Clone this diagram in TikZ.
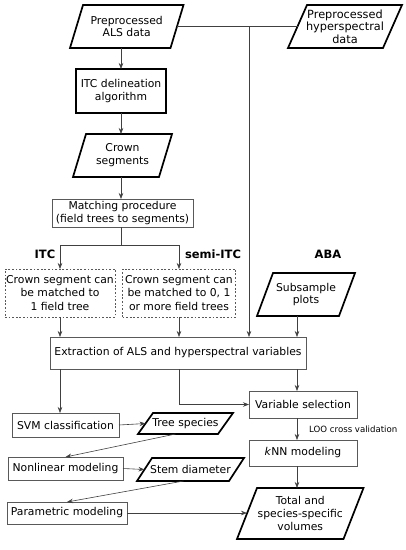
\documentclass[tikz,border=0pt]{standalone}
\usepackage{fontspec}
\setmainfont{DejaVu Sans}
\usetikzlibrary{arrows.meta}
\newcommand\paraframe[2]{\draw[pframe] ([xshift=#2pt]#1.north west) -- ([xshift=#2pt]#1.north east) -- ([xshift=-#2pt]#1.south east) -- ([xshift=-#2pt]#1.south west) -- cycle;}
\begin{document}
\begin{tikzpicture}[x=1pt,y=-1pt,
 base/.style={inner sep=0pt, outer sep=0pt, align=center, font=\fontsize{10.8}{12.8}\selectfont, text=black},
 thinbox/.style={base, draw=black!65, line width=0.7pt},
 thickbox/.style={base, draw=black, line width=1.7pt},
 dbox/.style={base, font=\fontsize{10.8}{13.3}\selectfont, draw=black!65, line width=0.7pt, dash pattern=on 1.8pt off 1.8pt},
 pbox/.style={base},
 pframe/.style={draw=black, line width=1.7pt, line join=miter},
 conn/.style={draw=black!75, line width=0.6pt},
 arr/.style={conn, -{Stealth[length=6pt,width=4.5pt]}},
 lab/.style={font=\bfseries\fontsize{11.5}{13}\selectfont, inner sep=0pt, text=black},
]
\useasboundingbox (0,0) rectangle (406,550);
\coordinate (colh) at (249,0);
\coordinate (colm) at (121,0);
\coordinate (colr) at (297,0);

% top
\node[pbox, minimum width=100.5pt, minimum height=43pt] (als) at (126.75,26.5) {Preprocessed\\ALS data};
\paraframe{als}{6.5}
\node[pbox, font=\fontsize{11.3}{12.6}\selectfont, minimum width=95pt, minimum height=43pt] (hyp) at (345,26.5) {Preprocessed\\hyperspectral\\data};
\paraframe{hyp}{9.5}
\node[thickbox, minimum width=90pt, minimum height=44pt] (itc) at (121,91) {ITC delineation\\algorithm};
\node[pbox, minimum width=86pt, minimum height=43pt] (crown) at (122.5,155.5) {Crown\\segments};
\paraframe{crown}{6.5}
\node[thinbox, minimum width=141pt, minimum height=28pt] (match) at (122.5,213) {Matching procedure\\(field trees to segments)};

% labels
\node[lab] (litc) at (45,254) {ITC};
\node[lab] (lsemi) at (213,254) {semi-ITC};
\node[lab] (laba) at (328,254) {ABA};

% middle
\node[dbox, minimum width=110pt, minimum height=48pt] (dl) at (60,293) {Crown segment can\\be matched to\\1 field tree};
\node[dbox, minimum width=113pt, minimum height=48pt] (dr) at (179,293) {Crown segment can\\be matched to 0, 1\\or more field trees};
\node[pbox, minimum width=82pt, minimum height=43pt] (sub) at (306,294.5) {Subsample\\plots};
\paraframe{sub}{8}
\node[thinbox, minimum width=256pt, minimum height=32pt] (ext) at (178,353) {Extraction of ALS and hyperspectral variables};

% lower
\node[thinbox, minimum width=108pt, minimum height=27pt] (vsel) at (303,404.5) {Variable selection};
\node[anchor=west, inner sep=0pt, font=\fontsize{8.6}{10}\selectfont, text=black] (loo) at (309,429) {LOO cross validation};
\node[thinbox, minimum width=108pt, minimum height=26pt] (knn) at (303,453) {\textit{k}NN modeling};
\node[pbox, minimum width=106.5pt, minimum height=51pt] (tot) at (300.25,513.5) {Total and\\species-specific\\volumes};
\paraframe{tot}{10}
\node[thinbox, minimum width=107pt, minimum height=24pt] (svm) at (65.5,425) {SVM classification};
\node[pbox, minimum width=80pt, minimum height=21pt] (tree) at (185.5,423.5) {Tree species};
\paraframe{tree}{7.5}
\node[thinbox, minimum width=115pt, minimum height=23pt] (nonlin) at (65.5,468.5) {Nonlinear modeling};
\node[pbox, minimum width=92pt, minimum height=23pt] (stem) at (190.5,469.5) {Stem diameter};
\paraframe{stem}{7.5}
\node[thinbox, minimum width=120pt, minimum height=22pt] (param) at (67,513) {Parametric modeling};

% connectors
\draw[conn] (als.east) -- (hyp.west);
\draw[arr] (als.east -| colh) -- (ext.north -| colh);
\draw[arr] (als.south -| colm) -- (itc.north -| colm);
\draw[arr] (itc.south -| colm) -- (crown.north -| colm);
\draw[arr] (crown.south -| colm) -- (match.north -| colm);
\coordinate (br) at (121,245);
\draw[conn] (match.south -| colm) -- (br);
\draw[arr] (br) -| (dl.north);
\draw[arr] (br) -| (dr.north);
\draw[arr] (dl.south) -- (dl.south |- ext.north);
\draw[arr] (dr.south) -- (dr.south |- ext.north);
\draw[arr] (sub.south -| colr) -- (ext.north -| colr);
\draw[arr] (ext.south -| colr) -- (vsel.north -| colr);
\draw[arr] (ext.south -| dr.south) |- (vsel.west);
\draw[arr] (ext.south -| dl.south) -- (svm.north -| dl.south);
\draw[arr] (svm.east) -- (tree.west);
\draw[arr] ([xshift=-10pt]tree.south) -- (nonlin.north);
\draw[arr] (nonlin.east) -- (stem.west);
\draw[arr] ([xshift=-7pt]stem.south) -- (param.north);
\draw[arr] (param.east) -- (tot.west |- param.east);
\draw[arr] (vsel.south -| colr) -- (knn.north -| colr);
\draw[arr] (knn.south -| colr) -- (tot.north -| colr);
\end{tikzpicture}
\end{document}
